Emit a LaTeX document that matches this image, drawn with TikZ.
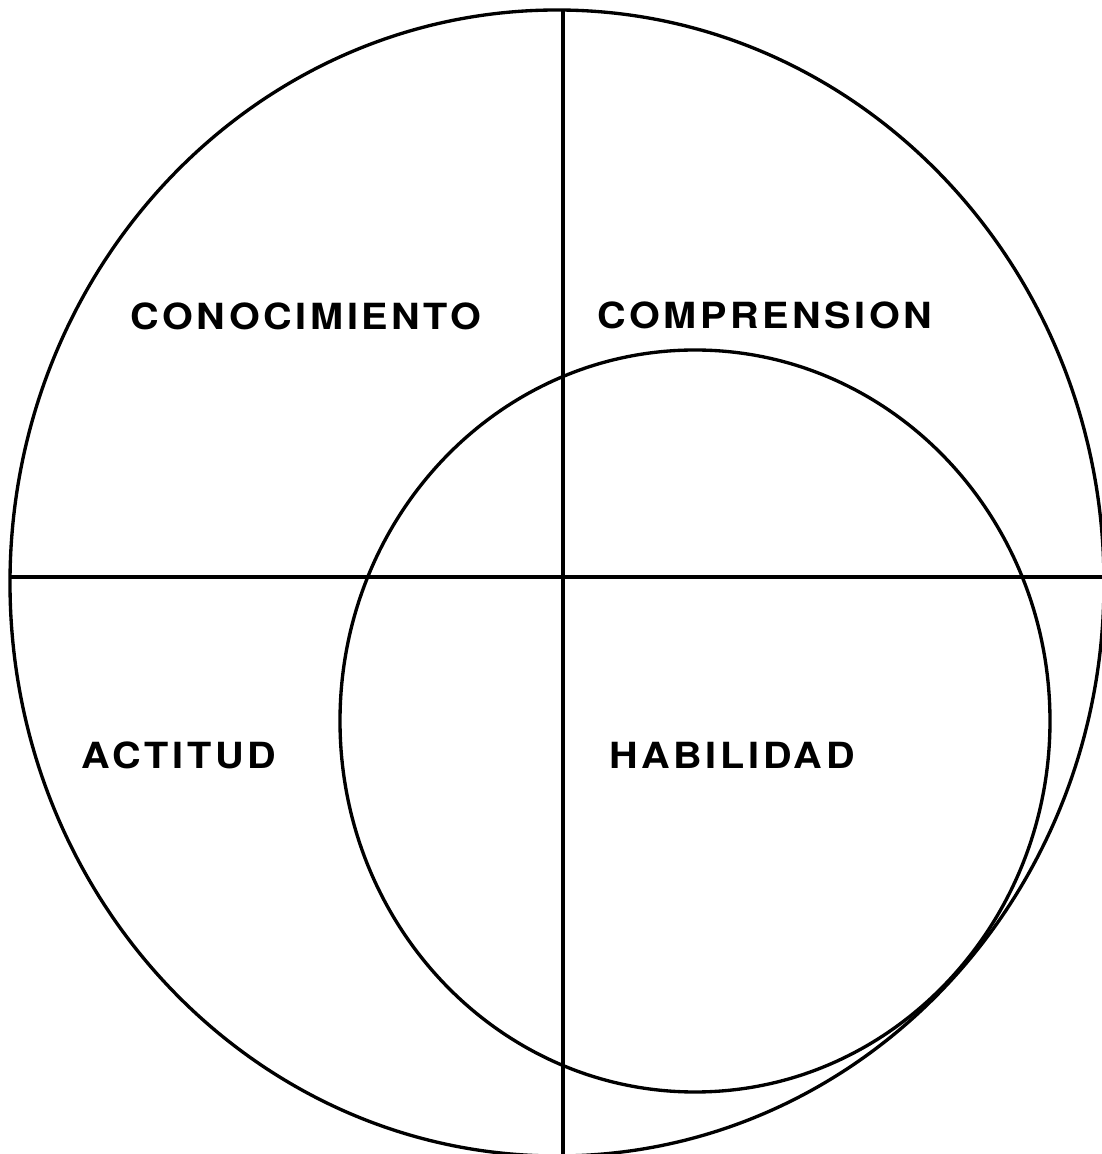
\documentclass[tikz,border=0pt]{standalone}
\usepackage{fontspec}
\usepackage{tikz}
\usetikzlibrary{positioning}
\newfontfamily\quadfont[LetterSpace=10, FakeStretch=1.1]{TeX Gyre Heros}

\begin{document}
\begin{tikzpicture}[x=0.02cm, y=0.02cm,
thickline/.style={line width=1.9pt},
quadlabel/.style={inner sep=0pt, font=\quadfont\bfseries\fontsize{20.5}{24}\selectfont},
]
\useasboundingbox (0,0) rectangle (1102,1154);

%Circles
\draw[thickline] (557,571) ellipse [x radius=547, y radius=573];
\draw[thickline] (695,433) ellipse [x radius=355, y radius=371];

%Axes
\coordinate (top)    at (563,1144);
\coordinate (bottom) at (563,0);
\coordinate (left)   at (10,577);
\coordinate (right)  at (1102,577);
\draw[thickline] (top) -- (bottom);
\draw[thickline] (left) -- (right);

%Labels
\node[quadlabel] (conocimiento) at (306,838) {CONOCIMIENTO};
\node[quadlabel] (comprension)  at (765,839) {COMPRENSION};
\node[quadlabel] (actitud)      at (179,399) {ACTITUD};
\node[quadlabel] (habilidad)    at (732,399) {HABILIDAD};
\end{tikzpicture}
\end{document}
